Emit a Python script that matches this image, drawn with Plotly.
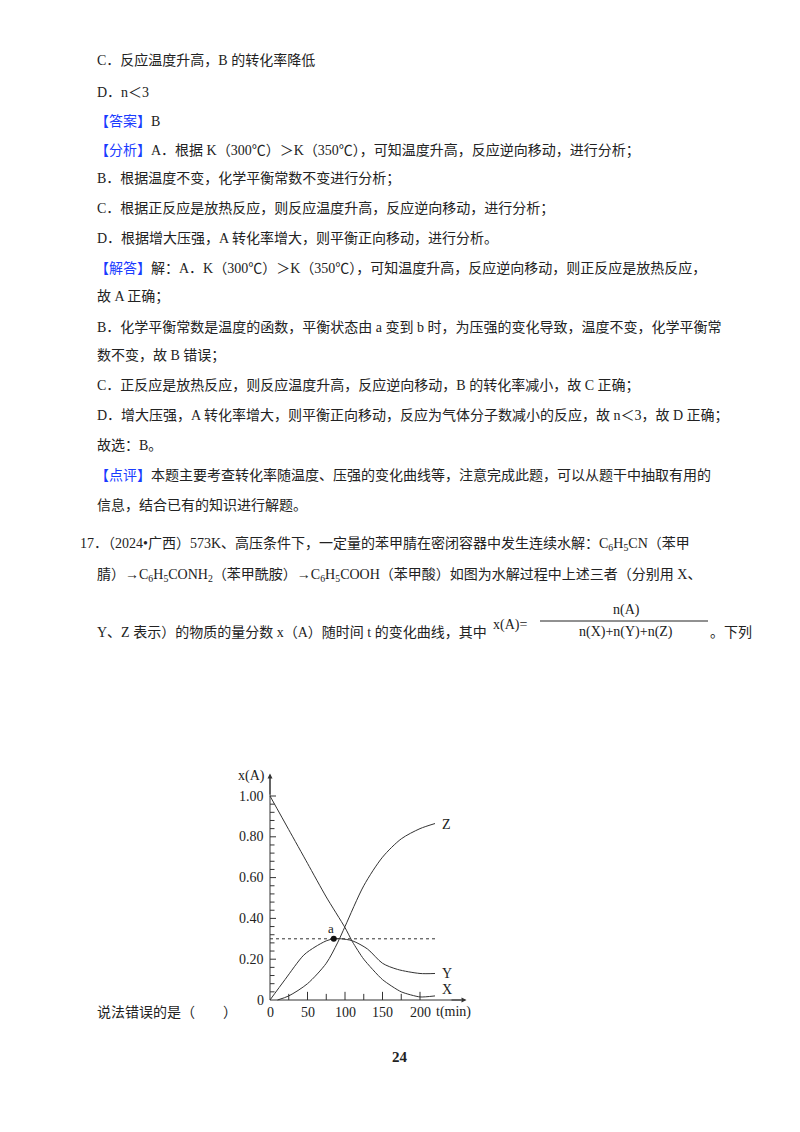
import plotly.graph_objects as go

# curve data
t_x = [0, 25, 50, 75, 100, 110, 125, 150, 175, 200, 220]
x_vals = [1.00, 0.835, 0.67, 0.505, 0.355, 0.285, 0.20, 0.10, 0.04, 0.015, 0.02]
t_y = [0, 20, 45, 60, 75, 85, 95, 110, 130, 150, 170, 200, 220]
y_vals = [0, 0.10, 0.22, 0.26, 0.29, 0.30, 0.30, 0.29, 0.25, 0.18, 0.15, 0.13, 0.13]
t_z = [10, 25, 50, 75, 90, 100, 125, 150, 175, 200, 220]
z_vals = [0, 0.02, 0.08, 0.18, 0.28, 0.36, 0.56, 0.70, 0.79, 0.84, 0.865]
point_a = (85, 0.30)
y_ticks = [0.20, 0.40, 0.60, 0.80, 1.00]
y_tick_labels = ["0.20", "0.40", "0.60", "0.80", "1.00"]
x_ticks = [50, 100, 150, 200]

W, H = 800, 1132
OFF = 8  # page body margin
X0, Y0, SX, SY = 270 - OFF, 1000 - OFF, 0.75, 204  # pixel of origin, px per unit

FONT = "Liberation Serif, Noto Sans CJK SC"
BLUE = "#1a3cff"
ink = "#222"

fig = go.Figure()
line = dict(color="#333", width=1)
fig.add_trace(go.Scatter(x=t_x, y=x_vals, mode="lines", line=dict(color="#333", width=1, shape="spline", smoothing=0.6)))
fig.add_trace(go.Scatter(x=t_y, y=y_vals, mode="lines", line=dict(color="#333", width=1, shape="spline", smoothing=0.8)))
fig.add_trace(go.Scatter(x=t_z, y=z_vals, mode="lines", line=dict(color="#333", width=1, shape="spline", smoothing=0.8)))
fig.add_trace(go.Scatter(x=[0, 220], y=[0.30, 0.30], mode="lines", line=dict(color="#333", width=1, dash="dot")))
fig.add_trace(go.Scatter(x=[point_a[0]], y=[point_a[1]], mode="markers", marker=dict(color="#111", size=6)))

shapes = [
    dict(type="line", xref="x", yref="y", x0=0, y0=0, x1=0, y1=1.09, line=line),
    dict(type="line", xref="x", yref="y", x0=0, y0=0, x1=255, y1=0, line=line),
]
# y minor ticks every 0.04, x ticks every 25
for i in range(1, 26):
    v = i * 0.04
    shapes.append(dict(type="line", xref="x", yref="y", x0=0, x1=6 if i % 5 else 8, y0=v, y1=v, line=line))
for i in range(1, 9):
    v = i * 25
    shapes.append(dict(type="line", xref="x", yref="y", x0=v, x1=v, y0=0, y1=0.03 if i % 2 else 0.04, line=line))

ann = []
def txt(px, py, s, size=14, anchor="left", color=ink, bold=False):
    ann.append(dict(x=(px - OFF) / W, y=1 - (py - OFF) / H, xref="paper", yref="paper",
                    text=("<b>%s</b>" % s) if bold else s,
                    showarrow=False, xanchor=anchor, yanchor="middle",
                    font=dict(family=FONT, size=size, color=color)))

# arrow heads
ann.append(dict(x=0, y=1.11, ax=0, ay=1.0, xref="x", yref="y", axref="x", ayref="y", text="", showarrow=True,
                arrowhead=2, arrowsize=1, arrowwidth=1, arrowcolor="#333"))
ann.append(dict(x=262, y=0, ax=240, ay=0, xref="x", yref="y", axref="x", ayref="y", text="", showarrow=True,
                arrowhead=2, arrowsize=1, arrowwidth=1, arrowcolor="#333"))

for v, lab in zip(y_ticks, y_tick_labels):
    txt(266, 1000 - v * SY, lab, 14, "right")
txt(266, 1000, "0", 14, "right")
txt(270, 1012, "0", 14, "center")
for v in x_ticks:
    txt(270 + v * SX, 1012, str(v), 14, "center")
txt(434, 1012, "t(min)", 14, "left")
txt(236, 776, "x(A)", 14, "left")
txt(440, 824, "Z", 14, "left")
txt(440, 973, "Y", 14, "left")
txt(440, 990, "X", 14, "left")
txt(331, 928, "a", 13, "center")

lb = lambda s: '<span style="color:%s">【%s】</span>' % (BLUE, s)
lines = [
    (95, 60, "C．反应温度升高，B 的转化率降低"),
    (95, 93, "D．n＜3"),
    (93, 121, lb("答案") + "B"),
    (93, 150, lb("分析") + "A．根据 K（300℃）＞K（350℃），可知温度升高，反应逆向移动，进行分析；"),
    (95, 179, "B．根据温度不变，化学平衡常数不变进行分析；"),
    (95, 208, "C．根据正反应是放热反应，则反应温度升高，反应逆向移动，进行分析；"),
    (95, 238, "D．根据增大压强，A 转化率增大，则平衡正向移动，进行分析。"),
    (93, 268, lb("解答") + "解：A．K（300℃）＞K（350℃），可知温度升高，反应逆向移动，则正反应是放热反应，"),
    (95, 297, "故 A 正确；"),
    (95, 327, "B．化学平衡常数是温度的函数，平衡状态由 a 变到 b 时，为压强的变化导致，温度不变，化学平衡常"),
    (95, 356, "数不变，故 B 错误；"),
    (95, 386, "C．正反应是放热反应，则反应温度升高，反应逆向移动，B 的转化率减小，故 C 正确；"),
    (95, 415, "D．增大压强，A 转化率增大，则平衡正向移动，反应为气体分子数减小的反应，故 n＜3，故 D 正确；"),
    (95, 445, "故选：B。"),
    (93, 475, lb("点评") + "本题主要考查转化率随温度、压强的变化曲线等，注意完成此题，可以从题干中抽取有用的"),
    (95, 505, "信息，结合已有的知识进行解题。"),
    (78, 544, "17．（2024•广西）573K、高压条件下，一定量的苯甲腈在密闭容器中发生连续水解：C<sub>6</sub>H<sub>5</sub>CN（苯甲"),
    (95, 575, "腈）→C<sub>6</sub>H<sub>5</sub>CONH<sub>2</sub>（苯甲酰胺）→C<sub>6</sub>H<sub>5</sub>COOH（苯甲酸）如图为水解过程中上述三者（分别用 X、"),
    (95, 632, "Y、Z 表示）的物质的量分数 x（A）随时间 t 的变化曲线，其中"),
    (708, 632, "。下列"),
    (95, 1012, "说法错误的是（　　）"),
]
for px, py, s in lines:
    txt(px, py, s)
txt(491, 625, "x(A)=", 14)
txt(626, 610, "n(A)", 14, "center")
txt(626, 632, "n(X)+n(Y)+n(Z)", 14, "center")
shapes.append(dict(type="line", xref="paper", yref="paper", x0=(540 - OFF) / W, x1=(708 - OFF) / W,
                   y0=1 - (621 - OFF) / H, y1=1 - (621 - OFF) / H, line=dict(color=ink, width=1)))
txt(400, 1057, "24", 15, "center", bold=True)

fig.update_layout(
    width=W, height=H, margin=dict(l=0, r=0, t=0, b=0), showlegend=False,
    paper_bgcolor="white", plot_bgcolor="white",
    xaxis=dict(range=[-X0 / SX, (W - X0) / SX], visible=False, domain=[0, 1]),
    yaxis=dict(range=[-(H - Y0) / SY, Y0 / SY], visible=False, domain=[0, 1]),
    shapes=shapes, annotations=ann,
)
fig.write_html("out.html")
